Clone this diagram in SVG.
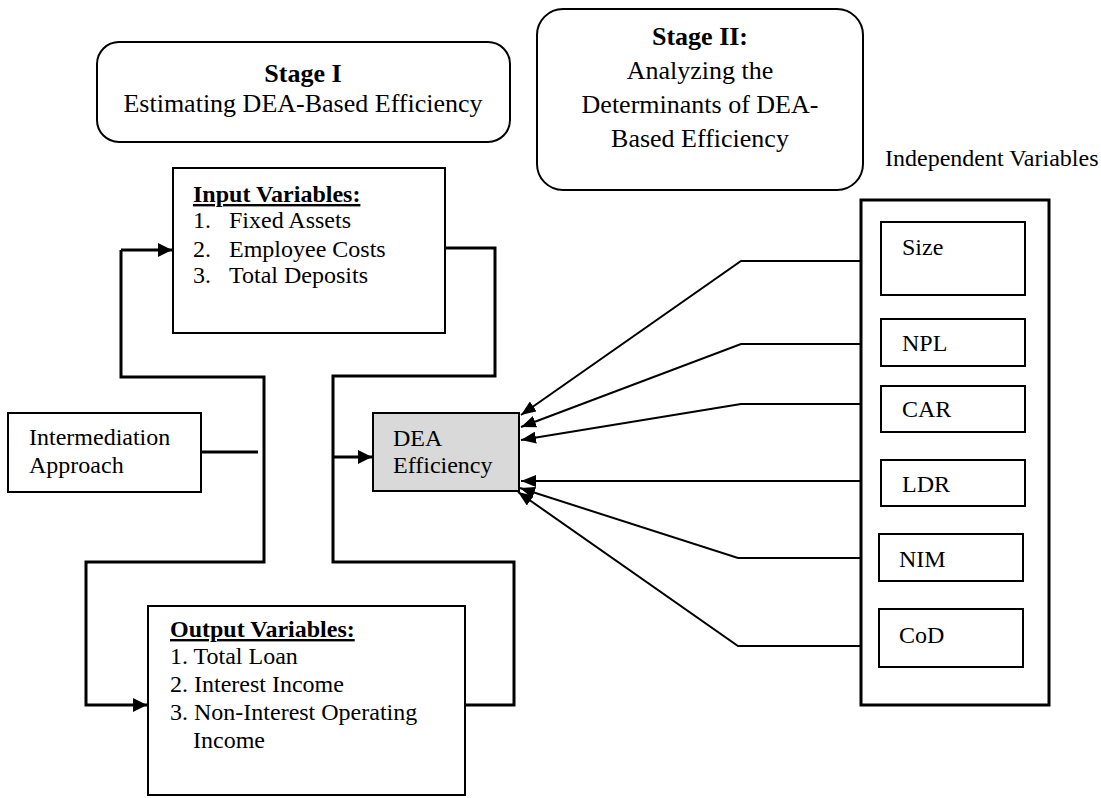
<svg xmlns="http://www.w3.org/2000/svg" width="1101" height="798" viewBox="0 0 1101 798">
<defs>
<style>
text{font-family:"Liberation Serif","Times New Roman",serif;fill:#000;font-size:24px}
.t{font-size:26px}
.b{font-weight:bold}
.u{text-decoration:underline}
.box{fill:#fff;stroke:#000;stroke-width:2}
.thick{fill:none;stroke:#000;stroke-width:3}
.thin{fill:none;stroke:#000;stroke-width:2}
</style>
<marker id="ah" viewBox="0 0 15 12" refX="15" refY="6" markerWidth="15" markerHeight="12" markerUnits="userSpaceOnUse" orient="auto">
<path d="M0,0 L15,6 L0,12 Z" fill="#000"/>
</marker>
<marker id="ahb" viewBox="0 0 14 14" refX="14" refY="7" markerWidth="14" markerHeight="14" markerUnits="userSpaceOnUse" orient="auto">
<path d="M0,0 L14,7 L0,14 Z" fill="#000"/>
</marker>
</defs>
<rect width="1101" height="798" fill="#fff"/>

<g id="stage1">
<rect class="box" x="97" y="42" width="413" height="100" rx="22"/>
<text class="t b" x="303" y="82" text-anchor="middle">Stage I</text>
<text class="t" x="303" y="112" text-anchor="middle">Estimating DEA-Based Efficiency</text>
</g>

<g id="stage2">
<rect class="box" x="537" y="9" width="326" height="181" rx="26"/>
<text class="t b" x="700" y="45" text-anchor="middle">Stage II:</text>
<text class="t" x="700" y="79" text-anchor="middle">Analyzing the</text>
<text class="t" x="700" y="113" text-anchor="middle">Determinants of DEA-</text>
<text class="t" x="700" y="147" text-anchor="middle">Based Efficiency</text>
</g>

<g id="independent-label">
<text x="885" y="166">Independent Variables</text>
</g>

<g id="connectors">
<path class="thick" d="M121,250 H172" marker-end="url(#ahb)"/>
<path class="thick" d="M121,250 V377 H264 V562 H86 V705 H147" marker-end="url(#ahb)"/>
<path class="thick" d="M445,248 H495 V376 H333 V562 H514 V705 H465"/>
<path class="thick" d="M333,457 H372" marker-end="url(#ahb)"/>
<path class="thick" d="M201,452 H258"/>
<path class="thin" d="M861,261 H741 L521,415" marker-end="url(#ah)"/>
<path class="thin" d="M861,344 H741 L521,427" marker-end="url(#ah)"/>
<path class="thin" d="M861,404 H741 L521,440" marker-end="url(#ah)"/>
<path class="thin" d="M861,481 H521" marker-end="url(#ah)"/>
<path class="thin" d="M861,558 H738 L520,488" marker-end="url(#ah)"/>
<path class="thin" d="M861,646 H738 L518,492" marker-end="url(#ah)"/>
</g>

<g id="input">
<rect class="box" x="173" y="168" width="272" height="165"/>
<text class="b u" x="193" y="202">Input Variables:</text>
<text x="193" y="228">1.</text><text x="229" y="228">Fixed Assets</text>
<text x="193" y="257">2.</text><text x="229" y="257">Employee Costs</text>
<text x="193" y="283">3.</text><text x="229" y="283">Total Deposits</text>
</g>

<g id="intermediation">
<rect class="box" x="8" y="413" width="193" height="79"/>
<text x="29" y="445">Intermediation</text>
<text x="29" y="473">Approach</text>
</g>

<g id="dea">
<rect x="373" y="413" width="146" height="78" fill="#d9d9d9" stroke="#000" stroke-width="2"/>
<text x="393" y="446">DEA</text>
<text x="393" y="473">Efficiency</text>
</g>

<g id="output">
<rect class="box" x="148" y="606" width="317" height="189"/>
<text class="b u" x="170" y="637">Output Variables:</text>
<text x="170" y="664">1. Total Loan</text>
<text x="170" y="692">2. Interest Income</text>
<text x="170" y="720">3. Non-Interest Operating</text>
<text x="193" y="748">Income</text>
</g>

<g id="independent">
<rect x="861" y="200" width="188" height="505" fill="none" stroke="#000" stroke-width="3"/>
</g>
<g id="size"><rect class="box" x="881" y="222" width="144" height="73"/><text x="902" y="255">Size</text></g>
<g id="npl"><rect class="box" x="881" y="319" width="144" height="47"/><text x="902" y="351">NPL</text></g>
<g id="car"><rect class="box" x="881" y="386" width="144" height="46"/><text x="902" y="417">CAR</text></g>
<g id="ldr"><rect class="box" x="881" y="460" width="144" height="46"/><text x="902" y="492">LDR</text></g>
<g id="nim"><rect class="box" x="879" y="534" width="144" height="47"/><text x="899" y="567">NIM</text></g>
<g id="cod"><rect class="box" x="879" y="609" width="144" height="58"/><text x="899" y="643">CoD</text></g>
</svg>
